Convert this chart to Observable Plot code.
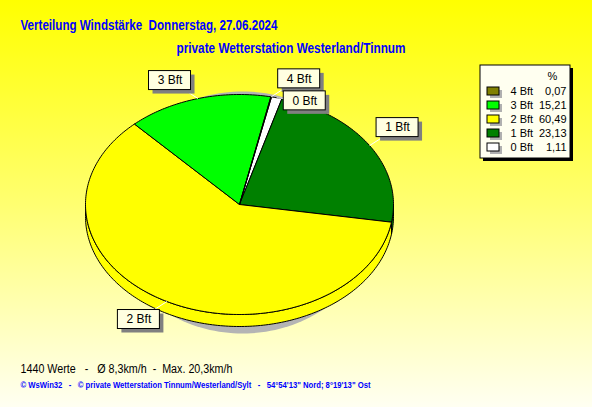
<!DOCTYPE html>
<html><head><meta charset="utf-8">
<script src="https://cdn.jsdelivr.net/npm/d3@7"></script>
<script src="https://cdn.jsdelivr.net/npm/@observablehq/plot@0.6"></script>
<style>
html,body{margin:0;padding:0;}
body{width:592px;height:407px;background:linear-gradient(to bottom,#ffff00 0%,#ffff70 50%,#fffff2 100%);overflow:hidden;}
svg text{white-space:pre;}
</style></head><body><div id="chart"></div>
<script>
// ---- data ----
const categories = ["4 Bft", "3 Bft", "2 Bft", "1 Bft", "0 Bft"];
const percents   = [0.07, 15.21, 60.49, 23.13, 1.11];
const colors     = ["#808000", "#00ff00", "#ffff00", "#008000", "#ffffff"];
const titleText    = "Verteilung Windstärke  Donnerstag, 27.06.2024";
const subtitleText = "private Wetterstation Westerland/Tinnum";
const statsText    = "1440 Werte   -   Ø 8,3km/h  -  Max. 20,3km/h";
const footerText   = "© WsWin32   -   © private Wetterstation Tinnum/Westerland/Sylt   -   54°54'13\" Nord; 8°19'13\" Ost";
const legendHeader = "%";

// ---- geometry (layout) ----
const cx = 239, cy = 204, rx = 154, ry = 110, depth = 12;
const startAngle = 12; // degrees clockwise from 12 o'clock, first slice = 0 Bft
const total = d3.sum(percents);
const rad = a => a * Math.PI / 180;
const pt = (a, dy = 0) => ({x: cx + rx * Math.sin(rad(a)), y: cy - ry * Math.cos(rad(a)) + dy});
function arc(a0, a1, dy) {
  const n = Math.max(2, Math.ceil(Math.abs(a1 - a0)));
  return d3.range(n + 1).map(i => pt(a0 + (a1 - a0) * i / n, dy));
}

// slices clockwise: 0 Bft, 1 Bft, 2 Bft, 3 Bft, 4 Bft
const order = [4, 3, 2, 1, 0];
let acc = startAngle;
const slices = order.map(i => {
  const span = percents[i] / total * 360;
  const s = {cat: categories[i], color: colors[i], a0: acc, a1: acc + span};
  acc += span;
  return s;
});

const topPolys = slices.map(s => {
  const pts = [{x: cx, y: cy}, ...arc(s.a0, s.a1, 0), {x: cx, y: cy}];
  return {color: s.color, pts};
});
const sidePolys = [];
for (const s of slices) {
  for (const base of [0, 360]) {
    const a = Math.max(s.a0, 90 + base), b = Math.min(s.a1, 270 + base);
    if (b > a) {
      const pts = [...arc(a, b, 0), ...arc(a, b, depth).reverse()];
      pts.push(pts[0]);
      sidePolys.push({color: s.color, pts});
    }
  }
}
// shadow ellipse
const shadow = d3.range(0, 361, 2).map(a => ({
  x: cx + 3 + (rx - 19) * Math.sin(rad(a)),
  y: cy + 8 - (ry + 11) * Math.cos(rad(a))
}));

// labels
const bw = 42, bh = 19;
const placed = [];
const sliceByCat = new Map(slices.map(s => [s.cat, s]));
const labels = categories.map(c => {
  const s = sliceByCat.get(c);
  const m = (s.a0 + s.a1) / 2;
  const sn = Math.sin(rad(m)), cs = Math.cos(rad(m));
  const e = pt(m, 0);
  let lx = e.x + 28 * Math.sign(sn);
  let ly = e.y - 18 * Math.sign(cs);
  for (const p of placed) {
    if (Math.abs(p.lx - lx) < bw && Math.abs(p.ly - ly) < bh + 2) ly = p.ly + bh + 3;
  }
  const L = {cat: c, ex: e.x, ey: e.y, lx, ly};
  placed.push(L);
  return L;
});

// legend rows
const fmt = v => d3.format(".2f")(v).replace(".", ",");
const legendRows = categories.map((c, i) => ({cat: c, color: colors[i], val: fmt(percents[i]), y: 91 + i * 14}));
const legendBox = [{x1: 480, x2: 570, y1: 65, y2: 158}];

const font = "'Liberation Sans', Arial, sans-serif";
const marks = [
  Plot.line(shadow, {x: "x", y: "y", fill: "#b4b4b4", stroke: "none"}),
  ...sidePolys.map(p => Plot.line(p.pts, {x: "x", y: "y", fill: p.color, stroke: "black", strokeWidth: 1})),
  ...topPolys.map(p => Plot.line(p.pts, {x: "x", y: "y", fill: p.color, stroke: "black", strokeWidth: 1})),
  // label leaders + boxes
  Plot.link(labels, {x1: "ex", y1: "ey", x2: "lx", y2: "ly", stroke: "white", strokeWidth: 1}),
  Plot.rect(labels, {x1: d => d.lx - bw / 2 + 4, x2: d => d.lx + bw / 2 + 4, y1: d => d.ly - bh / 2 + 4, y2: d => d.ly + bh / 2 + 4, fill: "#808080"}),
  Plot.rect(labels, {x1: d => d.lx - bw / 2, x2: d => d.lx + bw / 2, y1: d => d.ly - bh / 2, y2: d => d.ly + bh / 2, fill: "#ffffe1", stroke: "black", strokeWidth: 1}),
  Plot.text(labels, {x: "lx", y: "ly", text: "cat", fontSize: 12, fill: "black"}),
  // legend
  Plot.rect(legendBox, {x1: d => d.x1 + 3, x2: d => d.x2 + 3, y1: d => d.y1 + 3, y2: d => d.y2 + 3, fill: "black"}),
  Plot.rect(legendBox, {x1: "x1", x2: "x2", y1: "y1", y2: "y2", fill: "#fffff0", stroke: "black", strokeWidth: 1}),
  Plot.text([legendHeader], {x: () => 552, y: () => 76, text: d => d, fontSize: 11, fill: "black"}),
  Plot.rect(legendRows, {x1: () => 490, x2: () => 502, y1: d => d.y - 1, y2: d => d.y + 7, fill: "#b0b0b0"}),
  Plot.rect(legendRows, {x1: () => 487, x2: () => 499, y1: d => d.y - 4, y2: d => d.y + 4, fill: "color", stroke: "black", strokeWidth: 1}),
  Plot.text(legendRows, {x: () => 510, y: "y", text: "cat", textAnchor: "start", fontSize: 11, fill: "black"}),
  Plot.text(legendRows, {x: () => 566, y: "y", text: "val", textAnchor: "end", fontSize: 11, fill: "black"}),
  // titles
  Plot.text([titleText], {x: () => 20, y: () => 25, text: d => d, textAnchor: "start", fontSize: 14, fontWeight: "bold", fill: "#0000ff"}),
  Plot.text([subtitleText], {x: () => 176, y: () => 48.5, text: d => d, textAnchor: "start", fontSize: 14, fontWeight: "bold", fill: "#0000ff"}),
  Plot.text([statsText], {x: () => 20, y: () => 369, text: d => d, textAnchor: "start", fontSize: 12, fill: "black"}),
  Plot.text([footerText], {x: () => 20, y: () => 385, text: d => d, textAnchor: "start", fontSize: 9, fontWeight: "bold", fill: "#0000ff"})
];

const chart = Plot.plot({
  width: 592, height: 407, margin: 0,
  x: {domain: [0, 592], range: [0, 592], axis: null},
  y: {domain: [0, 407], range: [0, 407], axis: null},
  style: {background: "transparent", fontFamily: font},
  marks
});
// fit the narrow original typeface widths
const fitWidths = new Map([[titleText, 257], [subtitleText, 229], [statsText, 212], [footerText, 350]]);
d3.select(chart).selectAll("text").each(function() {
  const w = fitWidths.get(this.textContent);
  if (w) { this.setAttribute("textLength", w); this.setAttribute("lengthAdjust", "spacingAndGlyphs"); }
});
document.getElementById("chart").appendChild(chart);
</script></body></html>
